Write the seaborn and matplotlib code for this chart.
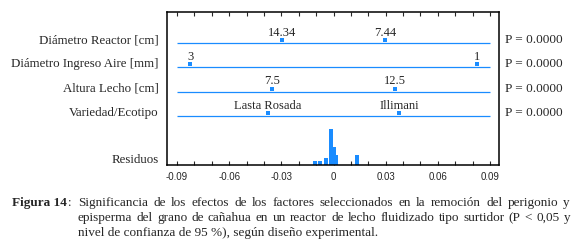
import numpy as np
import pandas as pd
import seaborn as sns
import matplotlib.pyplot as plt
from matplotlib.ticker import MultipleLocator

factors = ['Diámetro Reactor [cm]', 'Diámetro Ingreso Aire [mm]',
           'Altura Lecho [cm]', 'Variedad/Ecotipo']
level_low = ['14.34', '3', '7.5', 'Lasta Rosada']
level_high = ['7.44', '1', '12.5', 'Illimani']
effect_low = [-0.0296, -0.0825, -0.0354, -0.0378]
effect_high = [0.0296, 0.0825, 0.0354, 0.0378]
p_values = ['0.0000', '0.0000', '0.0000', '0.0000']

residuals = [-0.0108, -0.0074, -0.0046, -0.0044,
             -0.0016, -0.0015, -0.0014, -0.0015, -0.0016, -0.0014,
             -0.0015, -0.0015, -0.0016, -0.0014, -0.0015, -0.0015,
             0.0001, -0.0001, 0.0002, 0.0000, -0.0002, 0.0001,
             0.0016, 0.0014, 0.0015,
             0.0134, 0.0136, 0.0135]

xticks = [-0.09, -0.06, -0.03, 0, 0.03, 0.06, 0.09]
xtick_labels = ['-0.09', '-0.06', '-0.03', '0', '0.03', '0.06', '0.09']

blue = '#1a8cff'

sns.set_style('ticks')
plt.rcParams['font.family'] = ['Liberation Serif', 'DejaVu Serif']

fig = plt.figure(figsize=(5.75, 2.49), dpi=100)
ax = fig.add_axes([167 / 575, 1 - 165 / 249, (499 - 167) / 575, (165 - 12) / 249])

n = len(factors)
ypos = [n - i for i in range(n)]

# effect points (low / high level of each factor)
df = pd.DataFrame({
    'factor': factors * 2,
    'level': level_low + level_high,
    'effect': effect_low + effect_high,
    'y': ypos * 2,
})
df['ydot'] = df['y'] + 0.12

ax.hlines(ypos, -0.09, 0.09, color=blue, lw=0.9)
sns.scatterplot(data=df, x='effect', y='ydot', marker='s', s=5, color=blue,
                linewidth=0, ax=ax, legend=False)
for _, r in df.iterrows():
    ax.text(r['effect'], r['y'] + 0.18, r['level'], ha='center', va='bottom',
            fontsize=9)

# residual dot plot (stacked)
bw = 0.0015
res = pd.DataFrame({'r': residuals})
res['bin'] = np.round(res['r'] / bw) * bw
res['idx'] = res.groupby('bin').cumcount()
res['y'] = -0.93 + res['idx'] * 0.12
sns.scatterplot(data=res, x='bin', y='y', marker='s', s=5, color=blue,
                linewidth=0, ax=ax, legend=False)

# labels
for f, y, p in zip(factors, ypos, p_values):
    ax.text(-0.1005, y + 0.12, f, ha='right', va='center', fontsize=9.3)
    ax.text(0.0985, y + 0.12, 'P = ' + p, ha='left', va='center', fontsize=9.5)
ax.text(-0.1005, -0.8, 'Residuos', ha='right', va='center', fontsize=9.3)

ax.set_xlim(-0.0958, 0.0952)
ax.set_ylim(-1.0, 5.27)
ax.set_yticks([])
ax.set_xticks(xticks)
ax.set_xticklabels(xtick_labels, fontfamily='Liberation Sans', fontsize=7)
ax.xaxis.set_minor_locator(MultipleLocator(0.01))
ax.tick_params(axis='x', which='both', direction='in', top=True, length=3,
               width=0.8, pad=5)
ax.set_xlabel('')
ax.set_ylabel('')
for s in ax.spines.values():
    s.set_linewidth(1.1)
    s.set_color('black')

# caption
fig.canvas.draw()
renderer = fig.canvas.get_renderer()


def justify(words, x0, x1, y, size):
    ts = [fig.text(0, y, w, fontsize=size, va='center',
                   transform=None) for w in words]
    widths = [t.get_window_extent(renderer).width for t in ts]
    gap = (x1 - x0 - sum(widths)) / (len(words) - 1)
    x = x0
    for t, w in zip(ts, widths):
        t.set_position((x, y))
        x += w + gap


H = 249
fig.text(12, H - 203, 'Figura 14', fontsize=9.5, fontweight='bold', va='center',
         transform=None)
fig.text(68, H - 203, ':', fontsize=9.5, va='center', transform=None)
line1 = 'Significancia de los efectos de los factores seleccionados en la remoción del perigonio y'
line2 = 'episperma del grano de cañahua en un reactor de lecho fluidizado tipo surtidor (P < 0,05 y'
line3 = 'nivel de confianza de 95 %), según diseño experimental.'
justify(line1.split(), 78, 570, H - 203, 9.5)
justify(line2.split(), 78, 570, H - 218, 9.5)
fig.text(78, H - 233, line3, fontsize=9.5, va='center', transform=None)

fig.savefig('out.png', dpi=100)
